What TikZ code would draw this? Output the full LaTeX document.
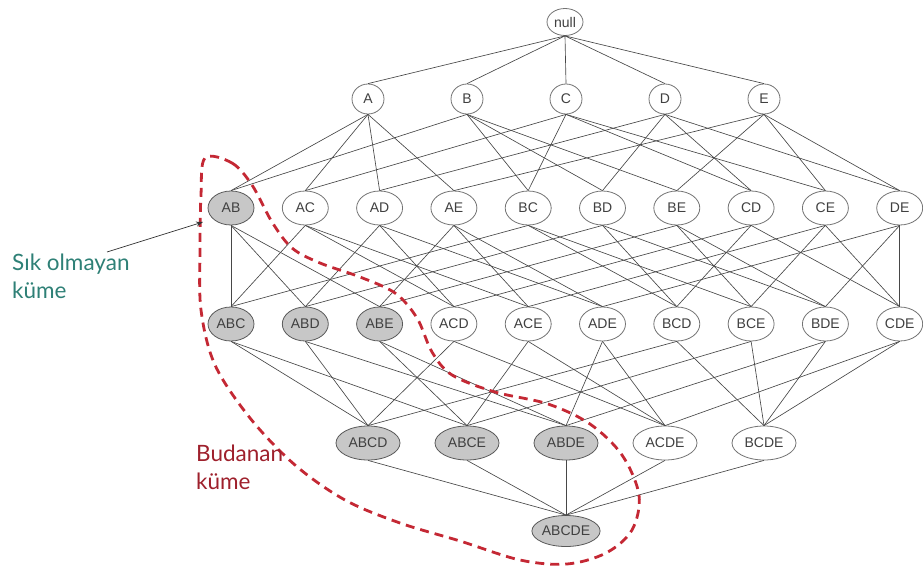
\documentclass[tikz,border=0pt]{standalone}
\usepackage{fontspec}
\setmainfont{Liberation Sans}
\newfontfamily\notefont{Lato}
\usetikzlibrary{shapes.geometric,arrows.meta}

\definecolor{noteteal}{RGB}{46,128,118}
\definecolor{notered}{RGB}{158,32,44}
\definecolor{cutred}{RGB}{196,40,52}

\tikzset{
  itemset/.style={ellipse, draw=black!55, line width=0.8pt, fill=white,
    inner sep=0pt, minimum width=46pt, minimum height=34pt,
    text=black!75, font=\fontsize{14}{14}\selectfont},
  pruned/.style={fill=black!22, draw=black!65},
  link/.style={draw=black!72, line width=0.65pt},
  note/.style={align=left, anchor=west, inner sep=0pt,
    font=\notefont\fontsize{22.5}{28}\selectfont},
}

\begin{document}
\begin{tikzpicture}[x=1pt, y=-1pt]
    \useasboundingbox (0,0) rectangle (923,570);

    % lattice of itemsets
    \node[itemset, minimum width=36pt, minimum height=27pt] (null) at (565,22) {null};
    \foreach \n [count=\i from 0] in {A,B,C,D,E}
      \node[itemset, minimum width=32pt, minimum height=30pt] (\n) at (368+99*\i,99) {\n};
    \foreach \n/\s [count=\i from 0] in {AB/pruned,AC/,AD/,AE/,BC/,BD/,BE/,CD/,CE/,DE/}
      \node[itemset,\s] (\n) at (231+74.3*\i,208) {\n};
    \foreach \n/\s [count=\i from 0] in {ABC/pruned,ABD/pruned,ABE/pruned,ACD/,ACE/,ADE/,BCD/,BCE/,BDE/,CDE/}
      \node[itemset,\s] (\n) at (231+74.3*\i,324) {\n};
    \foreach \n/\s [count=\i from 0] in {ABCD/pruned,ABCE/pruned,ABDE/pruned,ACDE/,BCDE/}
      \node[itemset,\s, minimum width=64pt] (\n) at (368+99*\i,443) {\n};
    \node[itemset, pruned, minimum width=68pt, minimum height=31pt] (ABCDE) at (566,531) {ABCDE};

    % subset links
    \foreach \u/\vs in {null/{A,B,C,D,E},
        A/{AB,AC,AD,AE}, B/{AB,BC,BD,BE}, C/{AC,BC,CD,CE}, D/{AD,BD,CD,DE}, E/{AE,BE,CE,DE},
        AB/{ABC,ABD,ABE}, AC/{ABC,ACD,ACE}, AD/{ABD,ACD,ADE}, AE/{ABE,ACE,ADE},
        BC/{ABC,BCD,BCE}, BD/{ABD,BCD,BDE}, BE/{ABE,BCE,BDE}, CD/{ACD,BCD,CDE},
        CE/{ACE,BCE,CDE}, DE/{ADE,BDE,CDE},
        ABC/{ABCD,ABCE}, ABD/{ABCD,ABDE}, ABE/{ABCE,ABDE}, ACD/{ABCD,ACDE},
        ACE/{ABCE,ACDE}, ADE/{ABDE,ACDE}, BCD/{ABCD,BCDE}, BCE/{ABCE,BCDE},
        BDE/{ABDE,BCDE}, CDE/{ACDE,BCDE},
        ABCD/{ABCDE}, ABCE/{ABCDE}, ABDE/{ABCDE}, ACDE/{ABCDE}, BCDE/{ABCDE}}
      \foreach \v in \vs
        \draw[link] (\u.south) -- (\v.north);

    % pruned region
    \draw[cutred, line width=2.8pt, dash pattern=on 9pt off 6pt]
      plot[smooth cycle, tension=0.55] coordinates {
        (205,158) (232,163) (252,185) (272,222) (292,248) (320,263)
        (360,277) (395,293) (417,318) (432,352) (452,375) (495,392)
        (548,404) (590,424) (622,455) (639,495) (632,530) (606,553)
        (567,564) (520,560) (460,541) (400,523) (345,500) (295,465)
        (250,418) (215,365) (201,310) (200,250) (201,195)};

    % notes
    \node[note, text=noteteal] (infreq) at (12,276) {Sık olmayan\\küme};
    \node[note, text=notered] (prunedset) at (196,467) {Budanan\\küme};
    \coordinate (tail) at (107,252);
    \coordinate (tip) at (203,222);
    \draw[black!80, line width=0.7pt, -{Stealth[length=7pt, width=5pt]}] (tail) -- (tip);
\end{tikzpicture}
\end{document}
